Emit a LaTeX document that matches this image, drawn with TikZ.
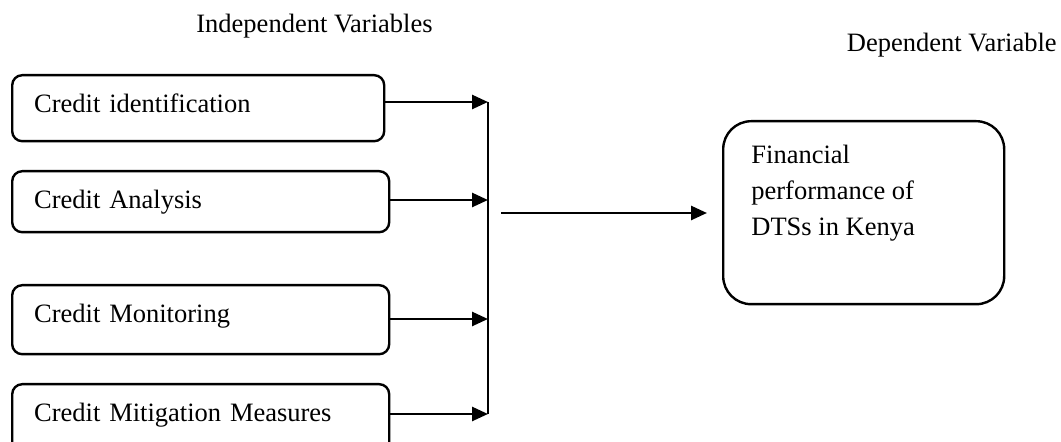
\documentclass[tikz,border=0pt]{standalone}
\usepackage{fontspec}
\setmainfont{Liberation Serif}
\usetikzlibrary{arrows.meta}
\begin{document}
\begin{tikzpicture}[x=0.5pt,y=-0.5pt,
  every node/.style={font=\fontsize{13.25}{17.5}\selectfont},
  ivbox/.style={draw, line width=1.2pt, rounded corners=5pt, anchor=north west,
    inner xsep=11pt, inner ysep=0pt, align=left, text height=18.5pt},
  dvbox/.style={draw, line width=1.2pt, rounded corners=14pt, anchor=north west,
    minimum width=140.5pt, minimum height=91.5pt, inner sep=0pt},
  heading/.style={inner sep=0pt},
  arr/.style={line width=1.3pt, -{Triangle[length=8pt,width=7pt]}},
  bar/.style={line width=1.3pt}]
\useasboundingbox (0,0) rectangle (1061,442);

\node[heading, anchor=base west] (ivh) at (196,33) {Independent Variables};
\node[heading, anchor=base east] (dvh) at (1057,52) {Dependent Variable};

\node[ivbox, text width=164pt, text depth=14.5pt] (b1) at (11,74) {Credit identification};
\node[ivbox, text width=166.5pt, text depth=12pt] (b2) at (11,170) {Credit Analysis};
\node[ivbox, text width=166.5pt, text depth=16pt] (b3) at (11,284) {Credit Monitoring};
\node[ivbox, text width=166.5pt, text depth=15.5pt] (b4) at (11,383) {Credit Mitigation Measures};

\coordinate (j1) at (488,102);
\coordinate (j2) at (488,200);
\coordinate (j3) at (488,319);
\coordinate (j4) at (488,414);

\draw[arr] (b1.east |- j1) -- (j1);
\draw[arr] (b2.east |- j2) -- (j2);
\draw[arr] (b3.east |- j3) -- (j3);
\draw[arr] (b4.east |- j4) -- (j4);
\draw[bar] (j1) -- (j4);

\node[dvbox] (dv) at (722,120) {};
\node[anchor=north west, inner sep=0pt, align=left,
  font=\fontsize{13.25}{18}\selectfont] (dvt) at (751,145)
  {Financial\\performance of\\DTSs in Kenya};

\coordinate (ms) at (501,213);
\coordinate (me) at (707,213);
\draw[arr] (ms) -- (me);
\end{tikzpicture}
\end{document}
